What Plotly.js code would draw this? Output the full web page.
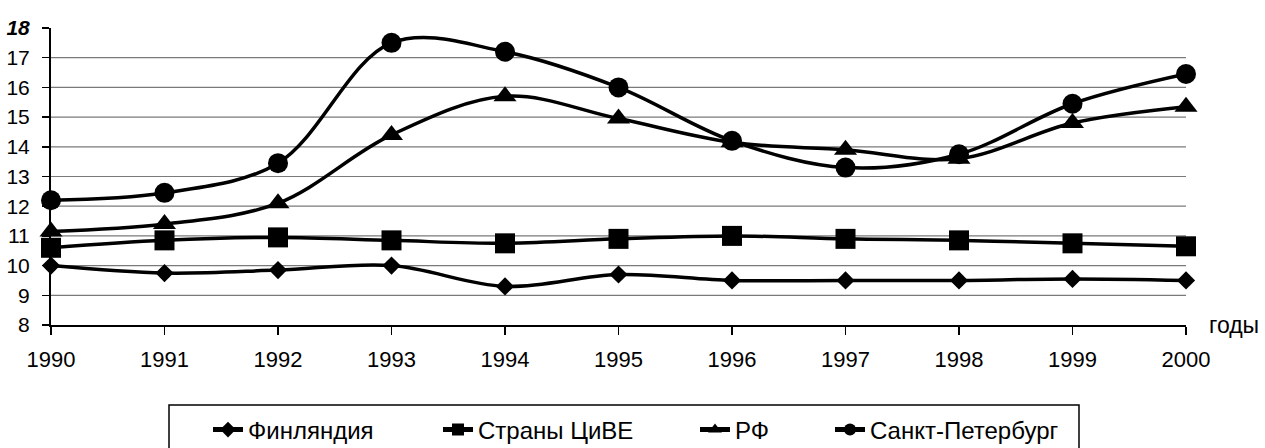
<!DOCTYPE html>
<html>
<head>
<meta charset="utf-8">
<script src="https://cdn.plot.ly/plotly-3.0.1.min.js"></script>
<style>html,body{margin:0;padding:0;background:#fff;}#chart{width:1265px;height:448px;}</style>
</head>
<body>
<div id="chart"></div>
<script>
// ---- data ----
var years = [1990, 1991, 1992, 1993, 1994, 1995, 1996, 1997, 1998, 1999, 2000];
var finland = [10.0, 9.75, 9.85, 10.0, 9.3, 9.7, 9.5, 9.5, 9.5, 9.55, 9.5];
var cee = [10.6, 10.85, 10.95, 10.85, 10.75, 10.9, 11.0, 10.9, 10.85, 10.75, 10.65];
var rf = [11.15, 11.4, 12.1, 14.4, 15.7, 14.95, 14.15, 13.9, 13.6, 14.8, 15.35];
var spb = [12.2, 12.45, 13.45, 17.5, 17.2, 16.0, 14.2, 13.3, 13.75, 15.45, 16.45];
var seriesNames = ['Финляндия', 'Страны ЦиВЕ', 'РФ', 'Санкт-Петербург'];
var yTickVals = [8, 9, 10, 11, 12, 13, 14, 15, 16, 17, 18];
var yTickText = ['8', '9', '10', '11', '12', '13', '14', '15', '16', '17', '<b><i>18</i></b>'];
var gridVals = [9, 10, 11, 12, 13, 14, 15, 16, 17];
var xLabel = 'годы';

// ---- layout geometry ----
var W = 1265, H = 448;
var M = {l: 51, r: 79, t: 28, b: 123};
var pw = W - M.l - M.r, ph = H - M.t - M.b;
function px2paperX(px) { return (px - M.l) / pw; }
function py2paperY(py) { return (H - M.b - py) / ph; }

var FONT = 'Liberation Sans, Arial, sans-serif';
var symbols = ['diamond', 'square', 'triangle-up', 'circle'];
var sizes = [14, 20, 20, 20];
var values = [finland, cee, rf, spb];
var legendIds = ['legend', 'legend2', 'legend3', 'legend4'];
var legendTextX = [250, 480, 737, 872];

var traces = values.map(function (v, i) {
  return {
    x: years, y: v, name: seriesNames[i], type: 'scatter', mode: 'lines+markers',
    line: {color: '#000', width: 3.5, shape: 'spline', smoothing: 1},
    marker: {symbol: symbols[i], size: sizes[i], color: '#000'},
    cliponaxis: false, legend: legendIds[i], showlegend: true
  };
});

var shapes = gridVals.map(function (g) {
  return {type: 'line', xref: 'paper', yref: 'y', x0: 0, x1: 1, y0: g, y1: g,
          line: {color: '#7a7a7a', width: 1.2}, layer: 'below'};
});
shapes.push({type: 'rect', xref: 'paper', yref: 'paper',
  x0: px2paperX(169), x1: px2paperX(1079), y0: py2paperY(405), y1: py2paperY(470),
  line: {color: '#000', width: 1.5}, fillcolor: 'rgba(0,0,0,0)'});

var layout = {
  width: W, height: H,
  margin: M,
  paper_bgcolor: '#fff', plot_bgcolor: '#fff',
  font: {family: FONT, color: '#000', size: 21},
  xaxis: {
    range: [1990, 2000], tickvals: years, ticktext: years.map(String),
    showgrid: false, zeroline: false, showline: true, linecolor: '#000', linewidth: 2,
    ticks: 'outside', ticklen: 8, tickwidth: 1.5, tickcolor: '#000',
    tickfont: {family: FONT, size: 22, color: '#000'}, ticklabelstandoff: 6
  },
  yaxis: {
    range: [8, 18], tickvals: yTickVals, ticktext: yTickText,
    showgrid: false, zeroline: false, showline: true, linecolor: '#000', linewidth: 2,
    ticks: 'outside', ticklen: 7, tickwidth: 1.5, tickcolor: '#000',
    tickfont: {family: FONT, size: 21, color: '#000'}, ticklabelstandoff: 8
  },
  shapes: shapes,
  annotations: [{
    text: xLabel, xref: 'paper', yref: 'y', x: px2paperX(1207), y: 8,
    xanchor: 'left', yanchor: 'middle', showarrow: false,
    font: {family: FONT, size: 23, color: '#000'}
  }]
};

legendIds.forEach(function (id, i) {
  layout[id] = {
    xref: 'container', yref: 'container',
    x: (legendTextX[i] - 42) / W, y: 1 - 430 / H,
    xanchor: 'left', yanchor: 'middle', orientation: 'h',
    bgcolor: 'rgba(0,0,0,0)', borderwidth: 0, itemsizing: 'constant',
    font: {family: FONT, size: 24, color: '#000'}
  };
});

Plotly.newPlot('chart', traces, layout, {displayModeBar: false, staticPlot: true});
</script>
</body>
</html>
